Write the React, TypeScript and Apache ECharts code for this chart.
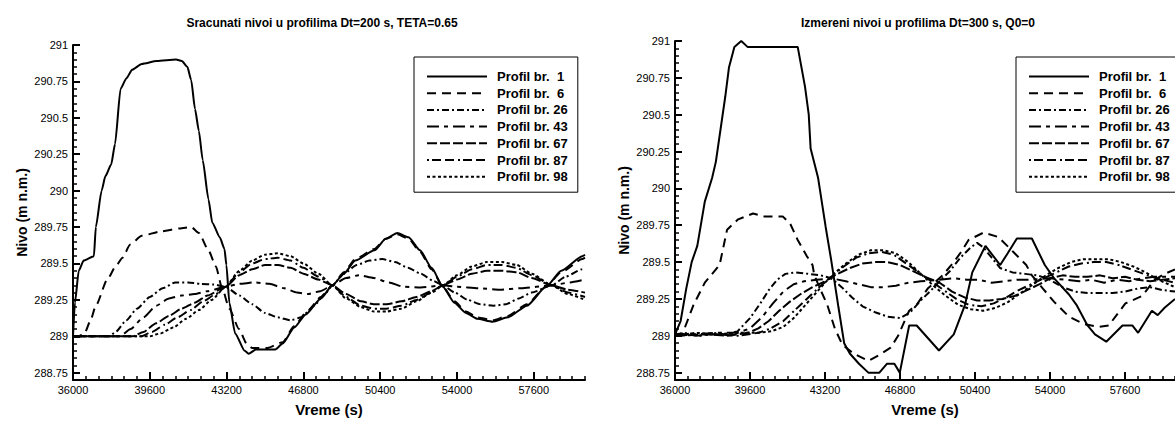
import React, { useEffect, useRef } from "react";
import * as echarts from "echarts";

const seriesNames = ["Profil br.  1", "Profil br.  6", "Profil br. 26", "Profil br. 43", "Profil br. 67", "Profil br. 87", "Profil br. 98"];

const xMajorTicks = [36000, 39600, 43200, 46800, 50400, 54000, 57600];
const yMajorTicks = [288.75, 289, 289.25, 289.5, 289.75, 290, 290.25, 290.5, 290.75, 291];

// Left chart: computed levels (Dt=200 s, TETA=0.65)
const calcP1 = [[36000,289.0],[36090,289.23],[36270,289.45],[36500,289.52],[36980,289.55],[37070,289.75],[37340,290.0],[37520,290.1],[37790,290.18],[37970,290.32],[38230,290.7],[38500,290.77],[38770,290.83],[39220,290.87],[39930,290.89],[40830,290.9],[41100,290.89],[41360,290.85],[41540,290.76],[41720,290.56],[41900,290.41],[42080,290.21],[42350,289.94],[42530,289.78],[42880,289.68],[43100,289.6],[43190,289.49],[43330,289.23],[43600,289.02],[44050,288.9],[44230,288.88],[44580,288.91],[45480,288.91],[45830,288.95],[46370,289.06],[46910,289.15],[47620,289.26],[48160,289.35],[48700,289.43],[49230,289.52],[50130,289.59],[50660,289.67],[51200,289.71],[51730,289.68],[52270,289.59],[52810,289.47],[53340,289.34],[53880,289.23],[54420,289.16],[54950,289.12],[55670,289.1],[56380,289.13],[57280,289.21],[58170,289.34],[58890,289.45],[59870,289.55],[60000,289.56]];
const calcP6 = [[36000,289.0],[36250,289.0],[36540,289.02],[36800,289.1],[37070,289.21],[37610,289.39],[38000,289.48],[38320,289.54],[38680,289.63],[39220,289.69],[40110,289.72],[41000,289.74],[41540,289.75],[41900,289.71],[42350,289.59],[42700,289.48],[42970,289.34],[43330,289.19],[43780,289.05],[44140,288.95],[44400,288.92],[45120,288.92],[45830,288.96],[46370,289.07],[46910,289.16],[47620,289.27],[48160,289.35],[48700,289.44],[49230,289.53],[50130,289.6],[50660,289.67],[51200,289.7],[51730,289.67],[52270,289.58],[52810,289.46],[53340,289.34],[53880,289.24],[54420,289.17],[54950,289.13],[55670,289.11],[56380,289.14],[57280,289.22],[58170,289.34],[58890,289.44],[59870,289.53],[60000,289.54]];
const calcP26 = [[36000,289.0],[37700,289.0],[38000,289.03],[38500,289.11],[39000,289.19],[39600,289.27],[40200,289.33],[40800,289.37],[41400,289.37],[42000,289.36],[42600,289.355],[43150,289.34],[43800,289.28],[44400,289.22],[45000,289.16],[45600,289.13],[46200,289.11],[46700,289.13],[47300,289.21],[47800,289.29],[48160,289.35],[48700,289.43],[49300,289.49],[49900,289.52],[50500,289.53],[51100,289.51],[51700,289.47],[52300,289.43],[52900,289.38],[53340,289.35],[53900,289.3],[54500,289.25],[55100,289.22],[55700,289.21],[56300,289.22],[56900,289.26],[57500,289.3],[58440,289.35],[59100,289.41],[59870,289.46],[60000,289.47]];
const calcP43 = [[36000,289.0],[38200,289.0],[38700,289.05],[39300,289.13],[39900,289.21],[40500,289.26],[41100,289.28],[41700,289.29],[42300,289.31],[43150,289.34],[43800,289.36],[44500,289.37],[45200,289.36],[45900,289.33],[46500,289.3],[47000,289.29],[47600,289.31],[48160,289.35],[48800,289.4],[49400,289.42],[50100,289.4],[50800,289.37],[51500,289.34],[52300,289.335],[53340,289.35],[54000,289.34],[55000,289.33],[56000,289.32],[57000,289.33],[58440,289.35],[59300,289.37],[60000,289.39]];
const calcP67 = [[36000,289.0],[38800,289.0],[39300,289.03],[39900,289.09],[40500,289.14],[41100,289.19],[41700,289.23],[42300,289.28],[43150,289.34],[43800,289.42],[44400,289.46],[45000,289.49],[45600,289.49],[46200,289.47],[46800,289.43],[47500,289.39],[48160,289.35],[48800,289.29],[49500,289.24],[50100,289.22],[50700,289.22],[51400,289.24],[52100,289.27],[52800,289.31],[53340,289.35],[54000,289.39],[54700,289.43],[55400,289.45],[56100,289.45],[56800,289.44],[57500,289.4],[58440,289.35],[59200,289.32],[60000,289.3]];
const calcP87 = [[36000,289.0],[39200,289.0],[39700,289.03],[40300,289.08],[40900,289.13],[41500,289.18],[42100,289.24],[42700,289.29],[43150,289.34],[43800,289.44],[44400,289.5],[45000,289.53],[45600,289.54],[46200,289.52],[46800,289.47],[47500,289.41],[48160,289.35],[48800,289.27],[49500,289.21],[50100,289.19],[50700,289.19],[51400,289.21],[52100,289.25],[52800,289.3],[53340,289.35],[54000,289.41],[54700,289.46],[55400,289.49],[56100,289.49],[56800,289.47],[57500,289.42],[58440,289.35],[59200,289.3],[60000,289.27]];
const calcP98 = [[36000,289.0],[39600,289.0],[40100,289.02],[40700,289.06],[41300,289.12],[41900,289.18],[42500,289.25],[43150,289.34],[43800,289.45],[44400,289.52],[45000,289.56],[45600,289.57],[46200,289.55],[46800,289.5],[47500,289.43],[48160,289.35],[48800,289.26],[49500,289.2],[50100,289.17],[50700,289.17],[51400,289.19],[52100,289.24],[52800,289.3],[53340,289.35],[54000,289.42],[54700,289.48],[55400,289.51],[56100,289.51],[56800,289.49],[57500,289.43],[58440,289.35],[59200,289.29],[60000,289.25]];

// Right chart: measured levels (Dt=300 s, Q0=0)
const measP1 = [[36000,289.01],[36270,289.1],[36540,289.32],[36800,289.5],[37070,289.61],[37430,289.91],[37780,290.07],[37960,290.18],[38410,290.62],[38590,290.82],[38850,290.96],[39180,291.0],[39480,290.96],[41890,290.96],[42240,290.69],[42420,290.5],[42510,290.27],[42870,290.07],[43230,289.74],[43490,289.52],[43850,289.19],[44120,288.95],[44390,288.88],[44830,288.81],[45280,288.75],[45810,288.75],[46170,288.81],[46530,288.81],[46790,288.75],[47240,289.07],[47600,289.07],[48670,288.9],[49380,289.01],[49920,289.21],[50270,289.43],[50900,289.61],[51610,289.48],[51970,289.56],[52410,289.66],[53130,289.66],[53750,289.48],[54200,289.39],[54910,289.28],[55270,289.21],[55800,289.07],[56160,289.01],[56700,288.96],[57480,289.07],[57950,289.07],[58230,289.02],[58890,289.17],[59170,289.14],[59500,289.19],[60000,289.25]];
const measP6 = [[36000,289.0],[36350,289.01],[36890,289.21],[37430,289.36],[38140,289.48],[38320,289.6],[38500,289.72],[39030,289.79],[39750,289.83],[40280,289.81],[41170,289.81],[41530,289.76],[41890,289.65],[42330,289.54],[42600,289.48],[42690,289.41],[42960,289.32],[43310,289.21],[43670,289.05],[44030,288.94],[44560,288.88],[45280,288.83],[45810,288.87],[46350,288.92],[46710,289.0],[47240,289.17],[47600,289.21],[48130,289.32],[48850,289.41],[49380,289.5],[49740,289.57],[50090,289.65],[50810,289.7],[51520,289.67],[52230,289.57],[52860,289.48],[53130,289.41],[53660,289.32],[54200,289.23],[54910,289.13],[55620,289.08],[56350,289.06],[56820,289.07],[57620,289.22],[58420,289.27],[59030,289.38],[59500,289.42],[60000,289.45]];
const measP26 = [[36000,289.01],[36600,289.02],[37200,289.0],[37800,289.02],[38400,289.01],[39000,289.03],[39600,289.12],[40100,289.22],[40500,289.31],[40900,289.38],[41300,289.42],[41800,289.43],[42400,289.42],[43000,289.41],[43500,289.39],[44000,289.33],[44500,289.26],[45000,289.2],[45600,289.16],[46200,289.13],[46800,289.12],[47300,289.16],[47800,289.24],[48300,289.31],[48700,289.37],[49200,289.44],[49700,289.53],[50200,289.6],[50500,289.63],[50800,289.6],[51200,289.53],[51600,289.46],[52200,289.43],[52800,289.42],[53400,289.41],[54000,289.38],[54600,289.33],[55200,289.3],[55800,289.29],[56400,289.29],[57000,289.29],[57600,289.3],[58200,289.32],[58800,289.33],[59400,289.31],[60000,289.3]];
const measP43 = [[36000,289.0],[37000,289.01],[38000,289.02],[39000,289.02],[39600,289.05],[40200,289.13],[40700,289.22],[41200,289.3],[41700,289.35],[42200,289.37],[42800,289.38],[43500,289.39],[44200,289.37],[44800,289.35],[45400,289.33],[46000,289.33],[46600,289.34],[47200,289.36],[47800,289.37],[48700,289.38],[49400,289.39],[50000,289.38],[50600,289.38],[51200,289.36],[51800,289.37],[52400,289.38],[53000,289.38],[54000,289.39],[54800,289.38],[55400,289.37],[56000,289.38],[56600,289.36],[57200,289.38],[57800,289.37],[58400,289.39],[59000,289.4],[60000,289.4]];
const measP67 = [[36000,289.0],[37500,289.01],[38500,289.0],[39500,289.02],[40000,289.05],[40500,289.1],[41000,289.17],[41500,289.23],[42000,289.28],[42600,289.33],[43200,289.37],[43800,289.42],[44400,289.46],[45000,289.49],[45600,289.5],[46200,289.5],[46800,289.48],[47400,289.44],[48000,289.4],[48700,289.36],[49300,289.3],[49900,289.26],[50500,289.24],[51100,289.24],[51700,289.25],[52300,289.27],[52900,289.31],[53500,289.35],[54000,289.39],[54600,289.41],[55200,289.4],[55800,289.4],[56400,289.41],[57000,289.39],[57600,289.4],[58200,289.38],[58800,289.37],[59400,289.38],[60000,289.39]];
const measP87 = [[36000,289.02],[37000,289.0],[38000,289.01],[39000,289.0],[40000,289.02],[40600,289.05],[41200,289.1],[41800,289.18],[42400,289.26],[43000,289.34],[43500,289.4],[44100,289.47],[44700,289.53],[45300,289.56],[45900,289.57],[46500,289.55],[47100,289.49],[47700,289.43],[48300,289.37],[48900,289.31],[49500,289.25],[50100,289.21],[50700,289.2],[51300,289.22],[51900,289.26],[52500,289.31],[53100,289.35],[53700,289.39],[54300,289.43],[54900,289.47],[55500,289.49],[56100,289.5],[56700,289.5],[57300,289.48],[57900,289.45],[58500,289.42],[59100,289.39],[60000,289.36]];
const measP98 = [[36000,289.0],[37000,289.02],[38000,289.01],[39000,289.02],[40000,289.02],[40600,289.03],[41200,289.06],[41700,289.12],[42200,289.2],[42700,289.28],[43200,289.36],[43700,289.43],[44200,289.49],[44800,289.55],[45400,289.58],[46000,289.58],[46600,289.56],[47200,289.5],[47800,289.42],[48400,289.34],[49000,289.27],[49600,289.21],[50200,289.18],[50800,289.17],[51400,289.19],[52000,289.23],[52600,289.29],[53200,289.35],[53800,289.41],[54400,289.46],[55000,289.5],[55600,289.52],[56200,289.52],[56800,289.52],[57400,289.5],[58000,289.47],[58600,289.43],[59200,289.38],[60000,289.33]];

const calcSeries = [calcP1, calcP6, calcP26, calcP43, calcP67, calcP87, calcP98];
const measSeries = [measP1, measP6, measP26, measP43, measP67, measP87, measP98];

const dashStyles: any[] = ["solid", [9, 6], [7, 3, 2, 3], [12, 5, 4, 5], [10, 3], [2, 3, 9, 4, 9, 4], [3, 2.5]];

const FONT = "'Liberation Sans', Arial, Helvetica, sans-serif";

function buildOption() {
  const grids = [
    { left: 73, top: 45, width: 512, height: 346 },
    { left: 675, top: 41, width: 512, height: 347 },
  ];
  const xAxes: any[] = [];
  const yAxes: any[] = [];
  for (let g = 0; g < 2; g++) {
    xAxes.push({
      type: "value", gridIndex: g, position: "bottom", min: 36000, max: 60000, interval: 3600, z: 20,
      name: "Vreme (s)", nameLocation: "middle", nameGap: 22,
      nameTextStyle: { fontFamily: FONT, fontWeight: "bold", fontSize: 15, color: "#000" },
      axisLine: { show: true, onZero: false, lineStyle: { color: "#000", width: 2 } },
      axisTick: { show: true, inside: true, length: 8, lineStyle: { color: "#000", width: 2 }, customValues: xMajorTicks },
      axisLabel: { show: true, margin: 4, color: "#000", fontFamily: FONT, fontSize: 11, customValues: xMajorTicks, formatter: (v: number) => String(v) },
      splitLine: { show: false },
    });
    xAxes.push({
      type: "value", gridIndex: g, position: "bottom", min: 36000, max: 60000, interval: 600, z: 20,
      axisLine: { show: false, onZero: false },
      axisTick: { show: true, inside: true, length: 4, lineStyle: { color: "#000", width: 1.5 } },
      axisLabel: { show: false },
      splitLine: { show: false },
    });
    yAxes.push({
      type: "value", gridIndex: g, position: "left", min: 288.7, max: 291, interval: 0.05, z: 20,
      name: "Nivo (m n.m.)", nameLocation: "middle", nameGap: 44,
      nameTextStyle: { fontFamily: FONT, fontWeight: "bold", fontSize: 14, color: "#000" },
      axisLine: { show: true, onZero: false, lineStyle: { color: "#000", width: 2 } },
      axisTick: { show: true, inside: true, length: 7, lineStyle: { color: "#000", width: 2 }, customValues: yMajorTicks },
      axisLabel: { show: true, margin: 5, color: "#000", fontFamily: FONT, fontSize: 11, customValues: yMajorTicks, formatter: (v: number) => String(v) },
      splitLine: { show: false },
    });
    yAxes.push({
      type: "value", gridIndex: g, position: "left", min: 288.7, max: 291, interval: 0.05, z: 20,
      axisLine: { show: false, onZero: false },
      axisTick: { show: true, inside: true, length: 4, lineStyle: { color: "#000", width: 1.5 } },
      axisLabel: { show: false },
      splitLine: { show: false },
    });
  }

  const series: any[] = [];
  const groups = [calcSeries, measSeries];
  groups.forEach((grp, g) => {
    grp.forEach((data, i) => {
      series.push({
        type: "line",
        name: seriesNames[i],
        xAxisIndex: g * 2,
        yAxisIndex: g * 2,
        data,
        symbol: "none",
        smooth: g === 0 ? 0.2 : false,
        smoothMonotone: "x",
        lineStyle: { color: "#000", width: 2, type: dashStyles[i] },
        itemStyle: { color: "#000" },
      });
    });
  });

  const legendBase = {
    orient: "vertical",
    top: 57,
    padding: [13, 10, 9, 12],
    itemGap: 3.7,
    itemWidth: 60,
    itemHeight: 14,
    borderColor: "#000",
    borderWidth: 1,
    selectedMode: false,
    itemStyle: { opacity: 0 },
    textStyle: { fontFamily: FONT, fontWeight: "bold", fontSize: 13, color: "#000", padding: [0, 0, 0, 5] },
    data: seriesNames,
  };

  return {
    animation: false,
    backgroundColor: "#fff",
    title: [
      { text: "Sracunati nivoi u profilima Dt=200 s, TETA=0.65", left: 317, top: 12, textAlign: "center",
        textStyle: { fontFamily: FONT, fontWeight: "bold", fontSize: 12, color: "#000" } },
      { text: "Izmereni nivoi u profilima Dt=300 s, Q0=0", left: 913, top: 12, textAlign: "center",
        textStyle: { fontFamily: FONT, fontWeight: "bold", fontSize: 12, color: "#000" } },
    ],
    legend: [
      { ...legendBase, left: 414 },
      { ...legendBase, left: 1016 },
    ],
    grid: grids,
    xAxis: xAxes,
    yAxis: yAxes,
    series,
  };
}

export default function App() {
  const ref = useRef<HTMLDivElement>(null);
  useEffect(() => {
    if (!ref.current) return;
    const chart = echarts.init(ref.current, undefined, { renderer: "svg" });
    chart.setOption(buildOption() as any);
    return () => chart.dispose();
  }, []);
  return (
    <div
      ref={ref}
      style={{ position: "fixed", left: 0, top: 0, width: 1175, height: 422, background: "#fff" }}
    />
  );
}
